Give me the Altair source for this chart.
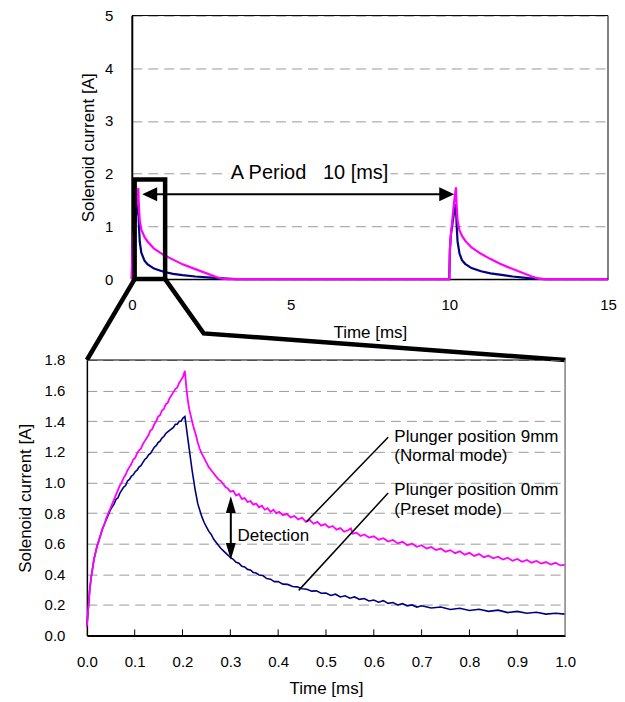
import altair as alt
import pandas as pd

FONT = "Liberation Sans"

# ---------------- zoomed view (0 - 1 ms) ----------------
# Plunger position 9mm (normal mode)
rise_t_9mm = [0.000, 0.003, 0.006, 0.009, 0.012, 0.015, 0.018, 0.021, 0.025, 0.029,
              0.033, 0.037, 0.041, 0.045, 0.049, 0.053, 0.057, 0.061, 0.065, 0.069,
              0.073, 0.077, 0.081, 0.085, 0.089, 0.093, 0.097, 0.101, 0.105, 0.109,
              0.113, 0.117, 0.121, 0.125, 0.129, 0.133, 0.137, 0.141, 0.145, 0.149,
              0.153, 0.157, 0.161, 0.165, 0.169, 0.173, 0.177, 0.181, 0.185, 0.189,
              0.193, 0.197, 0.201, 0.205]
rise_i_9mm = [0.06, 0.18, 0.30, 0.38, 0.44, 0.50, 0.54, 0.58, 0.62, 0.66,
              0.70, 0.73, 0.77, 0.80, 0.83, 0.86, 0.89, 0.92, 0.95, 0.98,
              1.00, 1.03, 1.05, 1.08, 1.10, 1.12, 1.15, 1.16, 1.19, 1.21,
              1.22, 1.25, 1.27, 1.29, 1.31, 1.34, 1.35, 1.38, 1.40, 1.43,
              1.44, 1.47, 1.48, 1.51, 1.52, 1.55, 1.57, 1.59, 1.61, 1.62,
              1.65, 1.67, 1.69, 1.73]
decay_t_9mm = [0.208, 0.211, 0.214, 0.217, 0.220, 0.224, 0.228, 0.232, 0.236, 0.240,
               0.245, 0.250, 0.255, 0.260, 0.265, 0.270, 0.275, 0.280, 0.285, 0.290,
               0.295, 0.300,
               0.306, 0.312, 0.318, 0.324, 0.330, 0.336, 0.342, 0.348, 0.354, 0.360,
               0.366, 0.372, 0.378, 0.384, 0.390, 0.396, 0.402, 0.410, 0.418, 0.426,
               0.434, 0.442, 0.450, 0.458, 0.466, 0.474, 0.482, 0.490, 0.498, 0.506,
               0.514, 0.522, 0.530, 0.538, 0.546, 0.552, 0.556, 0.564, 0.572, 0.580,
               0.590, 0.600, 0.610, 0.620, 0.630, 0.640, 0.650, 0.660, 0.670, 0.680,
               0.690, 0.700, 0.710, 0.720, 0.730, 0.740, 0.750, 0.760, 0.770, 0.780,
               0.790, 0.800, 0.810, 0.820, 0.830, 0.840, 0.850, 0.860, 0.870, 0.880,
               0.890, 0.900, 0.910, 0.920, 0.930, 0.940, 0.950, 0.960, 0.970, 0.980,
               0.990, 1.000]
decay_i_9mm = [1.62, 1.54, 1.48, 1.44, 1.40, 1.35, 1.31, 1.26, 1.22, 1.19,
               1.16, 1.13, 1.10, 1.08, 1.06, 1.04, 1.02, 1.01, 0.99, 0.97,
               0.96, 0.94,
               0.945, 0.915, 0.925, 0.893, 0.898, 0.872, 0.878, 0.855, 0.862, 0.838,
               0.848, 0.822, 0.832, 0.808, 0.822, 0.798, 0.808, 0.786, 0.795, 0.772,
               0.781, 0.758, 0.770, 0.742, 0.755, 0.730, 0.742, 0.718, 0.728, 0.706,
               0.716, 0.692, 0.702, 0.678, 0.688, 0.700, 0.665, 0.672, 0.650, 0.660,
               0.640, 0.648, 0.626, 0.636, 0.614, 0.624, 0.602, 0.612, 0.590, 0.600,
               0.580, 0.590, 0.568, 0.578, 0.558, 0.568, 0.548, 0.558, 0.538, 0.550,
               0.528, 0.540, 0.520, 0.532, 0.512, 0.522, 0.504, 0.515, 0.496, 0.508,
               0.488, 0.500, 0.482, 0.494, 0.476, 0.487, 0.470, 0.480, 0.464, 0.475,
               0.458, 0.462]

# Plunger position 0mm (preset mode)
rise_t_0mm = rise_t_9mm
rise_i_0mm = [0.06, 0.18, 0.30, 0.38, 0.44, 0.50, 0.54, 0.58, 0.62, 0.66,
              0.70, 0.73, 0.76, 0.79, 0.82, 0.84, 0.86, 0.89, 0.90, 0.93,
              0.95, 0.97, 0.98, 1.01, 1.02, 1.04, 1.05, 1.07, 1.08, 1.10,
              1.11, 1.13, 1.15, 1.16, 1.18, 1.19, 1.21, 1.23, 1.24, 1.26,
              1.27, 1.29, 1.30, 1.32, 1.33, 1.34, 1.35, 1.36, 1.38, 1.38,
              1.40, 1.40, 1.42, 1.43]
decay_t_0mm = [0.208, 0.211, 0.214, 0.217, 0.220, 0.223, 0.226, 0.229, 0.232, 0.236,
               0.240, 0.245, 0.250, 0.255, 0.260, 0.265, 0.270, 0.275, 0.280, 0.285,
               0.290, 0.295, 0.300,
               0.306, 0.312, 0.318, 0.324, 0.330, 0.336, 0.342, 0.348, 0.354, 0.360,
               0.368, 0.376, 0.384, 0.392, 0.400, 0.410, 0.420, 0.430, 0.440, 0.450,
               0.460, 0.470, 0.480, 0.490, 0.500, 0.510, 0.520, 0.530, 0.540, 0.550,
               0.560, 0.570, 0.580, 0.590, 0.600, 0.610, 0.620, 0.630, 0.640, 0.650,
               0.660, 0.670, 0.680, 0.690, 0.700, 0.720, 0.740, 0.760, 0.780, 0.800,
               0.820, 0.840, 0.860, 0.880, 0.900, 0.920, 0.940, 0.960, 0.980, 1.000]
decay_i_0mm = [1.36, 1.29, 1.22, 1.15, 1.08, 1.02, 0.96, 0.91, 0.86, 0.82,
               0.78, 0.74, 0.71, 0.68, 0.66, 0.63, 0.61, 0.59, 0.57, 0.555,
               0.54, 0.525, 0.51,
               0.498, 0.478, 0.472, 0.452, 0.448, 0.432, 0.428, 0.412, 0.408, 0.396,
               0.392, 0.372, 0.368, 0.352, 0.352, 0.336, 0.334, 0.320, 0.318, 0.306,
               0.302, 0.290, 0.292, 0.276, 0.278, 0.262, 0.270, 0.252, 0.260, 0.244,
               0.252, 0.236, 0.242, 0.226, 0.232, 0.218, 0.228, 0.210, 0.216, 0.200,
               0.208, 0.194, 0.200, 0.186, 0.194, 0.180, 0.186, 0.170, 0.178, 0.164,
               0.172, 0.158, 0.166, 0.150, 0.158, 0.146, 0.152, 0.140, 0.146, 0.140]

zoom_t_9mm = rise_t_9mm + decay_t_9mm
zoom_i_9mm = rise_i_9mm + decay_i_9mm
zoom_t_0mm = rise_t_0mm + decay_t_0mm
zoom_i_0mm = rise_i_0mm + decay_i_0mm

# ---------------- full view (0 - 15 ms) ----------------
full_t_9mm = [0.0, 0.02, 0.05, 0.10, 0.15, 0.205, 0.22, 0.25, 0.30, 0.40, 0.50, 0.70,
              1.0, 1.3, 1.6, 2.0, 2.4, 2.7, 2.85, 3.0, 5.0, 7.0, 9.0, 10.0,
              10.02, 10.05, 10.10, 10.15, 10.21, 10.23, 10.26, 10.32, 10.40, 10.50,
              10.70, 11.0, 11.3, 11.6, 12.0, 12.3, 12.6, 12.8, 13.0, 15.0]
full_i_9mm = [0.0, 0.57, 0.85, 1.15, 1.45, 1.73, 1.40, 1.12, 0.94, 0.80, 0.71, 0.58,
              0.46, 0.37, 0.28, 0.19, 0.10, 0.03, 0.01, 0.0, 0.0, 0.0, 0.0, 0.0,
              0.57, 0.85, 1.15, 1.45, 1.74, 1.40, 1.12, 0.93, 0.82, 0.73,
              0.60, 0.48, 0.38, 0.29, 0.19, 0.12, 0.05, 0.01, 0.0, 0.0]
full_t_0mm = [0.0, 0.02, 0.05, 0.10, 0.15, 0.205, 0.22, 0.25, 0.30, 0.40, 0.50, 0.70,
              1.0, 1.3, 1.6, 2.0, 2.5, 3.0, 3.3, 5.0, 7.0, 9.0, 10.0,
              10.02, 10.05, 10.10, 10.15, 10.21, 10.23, 10.26, 10.32, 10.40, 10.50,
              10.70, 11.0, 11.3, 11.7, 12.0, 12.5, 13.0, 15.0]
full_i_0mm = [0.0, 0.57, 0.84, 1.06, 1.27, 1.43, 1.08, 0.71, 0.50, 0.35, 0.28, 0.20,
              0.14, 0.10, 0.075, 0.05, 0.03, 0.01, 0.0, 0.0, 0.0, 0.0, 0.0,
              0.56, 0.83, 1.05, 1.26, 1.42, 1.05, 0.72, 0.49, 0.36, 0.29,
              0.21, 0.15, 0.11, 0.075, 0.05, 0.02, 0.0, 0.0]

# annotation texts
period_label = "A Period\u00a0\u00a0\u00a010 [ms]"
label_9mm = ["Plunger position 9mm", "(Normal mode)"]
label_0mm = ["Plunger position 0mm", "(Preset mode)"]
detect_label = "Detection"

MAGENTA = "#ff00ff"
NAVY = "#000080"
GRID = "#9a9a9a"


def axis(**kw):
    base = dict(labelFont=FONT, titleFont=FONT, labelColor="black", titleColor="black",
                titleFontWeight="normal", domainColor="black", labelFlush=False)
    base.update(kw)
    return alt.Axis(**base)


# ================= TOP CHART =================
TW, TH = 522, 264
top_xs = alt.Scale(domain=[0, 15], range=[45, 522], nice=False, zero=False)
top_ys = alt.Scale(domain=[0, 5], nice=False)
top_xa = axis(values=[0, 5, 10, 15], format="d", ticks=False, grid=False,
              labelPadding=18, labelFontSize=15, title="Time [ms]", titleFontSize=17,
              titlePadding=12, domainWidth=1.5)
top_ya = axis(values=[0, 1, 2, 3, 4, 5], format="d", ticks=False, grid=True,
              gridDash=[10, 6], gridColor=GRID, gridWidth=1, labelPadding=19,
              labelFontSize=15, title="Solenoid current [A]", titleFontSize=17,
              titlePadding=7, offset=-45, domainWidth=2)


def TX(f):
    return alt.X(f, type="quantitative", scale=top_xs, axis=top_xa)


def TY(f):
    return alt.Y(f, type="quantitative", scale=top_ys, axis=top_ya)


df_full9 = pd.DataFrame({"t": full_t_9mm, "i": full_i_9mm})
df_full0 = pd.DataFrame({"t": full_t_0mm, "i": full_i_0mm})

top_border = pd.DataFrame({"x0": [0, 15], "x1": [15, 15], "y0": [5, 0], "y1": [5, 5]})
l_border = alt.Chart(top_border).mark_rule(color="black", strokeWidth=1).encode(
    x=TX("x0"), x2="x1", y=TY("y0"), y2="y1")

l_navy = alt.Chart(df_full0).mark_line(color=NAVY, strokeWidth=2.2).encode(x=TX("t"), y=TY("i"))
l_mag = alt.Chart(df_full9).mark_line(color=MAGENTA, strokeWidth=2.2).encode(x=TX("t"), y=TY("i"))

box = pd.DataFrame({"x0": [3.05], "x1": [8.15], "y0": [1.86], "y1": [2.2]})
l_box = alt.Chart(box).mark_rect(color="white").encode(x=TX("x0"), x2="x1", y=TY("y0"), y2="y1")
period = pd.DataFrame({"x": [5.6], "y": [2.02], "txt": [period_label]})
l_period = alt.Chart(period).mark_text(font=FONT, fontSize=20, color="black", align="center",
                                       baseline="middle").encode(x=TX("x"), y=TY("y"), text="txt")

arrow = pd.DataFrame({"x0": [0.56], "x1": [9.92], "y": [1.61]})
l_arrow = alt.Chart(arrow).mark_rule(color="black", strokeWidth=2).encode(x=TX("x0"), x2="x1", y=TY("y"))
heads = pd.DataFrame({"x": [0.563, 9.92], "y": [1.61, 1.61], "dir": ["l", "r"]})
l_head_l = alt.Chart(heads[heads.dir == "l"]).mark_point(
    shape="M-1,0L1,-0.93L1,0.93Z", filled=True, color="black", opacity=1, size=225
).encode(x=TX("x"), y=TY("y"))
l_head_r = alt.Chart(heads[heads.dir == "r"]).mark_point(
    shape="M1,0L-1,-0.93L-1,0.93Z", filled=True, color="black", opacity=1, size=225
).encode(x=TX("x"), y=TY("y"))

zoombox = pd.DataFrame({"x0": [0.09], "x1": [1.05], "y0": [0.0], "y1": [1.89]})
l_zoombox = alt.Chart(zoombox).mark_rect(fillOpacity=0, stroke="black", strokeWidth=4.5).encode(
    x=TX("x0"), x2="x1", y=TY("y0"), y2="y1")

connect = pd.DataFrame({
    "seg": ["a", "a", "b", "b", "b"],
    "ord": [0, 1, 0, 1, 2],
    "t": [0.09, -1.415, 1.05, 2.264, 13.66],
    "i": [0.0, -1.534, 0.0, -1.03, -1.534],
})
l_connect = alt.Chart(connect).mark_line(color="black", strokeWidth=4.5, strokeJoin="miter").encode(
    x=TX("t"), y=TY("i"), detail="seg:N", order="ord:Q")

top = alt.layer(l_navy, l_mag, l_border, l_box, l_period, l_arrow, l_head_l, l_head_r,
                l_zoombox, l_connect).properties(width=TW, height=TH)

# ================= BOTTOM CHART =================
BW, BH = 479, 276
bot_xs = alt.Scale(domain=[0, 1], nice=False, zero=False)
bot_ys = alt.Scale(domain=[0, 1.8], nice=False)
bot_xa = axis(values=[0.0, 0.1, 0.2, 0.3, 0.4, 0.5, 0.6, 0.7, 0.8, 0.9, 1.0], format=".1f",
              ticks=False, grid=False, labelPadding=19, labelFontSize=15, title="Time [ms]",
              titleFontSize=17, titlePadding=11, domainWidth=2)
bot_ya = axis(values=[0.0, 0.2, 0.4, 0.6, 0.8, 1.0, 1.2, 1.4, 1.6, 1.8], format=".1f",
              ticks=False, grid=True, gridDash=[10, 6], gridColor=GRID, gridWidth=1,
              labelPadding=22, labelFontSize=15, title="Solenoid current [A]",
              titleFontSize=17, titlePadding=10, domainWidth=1.5)


def BX(f):
    return alt.X(f, type="quantitative", scale=bot_xs, axis=bot_xa)


def BY(f):
    return alt.Y(f, type="quantitative", scale=bot_ys, axis=bot_ya)


df_zoom9 = pd.DataFrame({"t": zoom_t_9mm, "i": zoom_i_9mm})
df_zoom0 = pd.DataFrame({"t": zoom_t_0mm, "i": zoom_i_0mm})

b_navy = alt.Chart(df_zoom0).mark_line(color=NAVY, strokeWidth=1.6).encode(x=BX("t"), y=BY("i"))
b_mag = alt.Chart(df_zoom9).mark_line(color=MAGENTA, strokeWidth=1.8).encode(x=BX("t"), y=BY("i"))

b_top = pd.DataFrame({"x0": [0.0], "x1": [1.0], "y": [1.8]})
b_topline = alt.Chart(b_top).mark_rule(color="black", strokeWidth=1).encode(x=BX("x0"), x2="x1", y=BY("y"))
b_right = pd.DataFrame({"x": [1.0], "y0": [0.0], "y1": [1.8]})
b_rightline = alt.Chart(b_right).mark_rule(color="#808080", strokeWidth=1.5).encode(
    x=BX("x"), y=BY("y0"), y2="y1")

tick_vals = [0.1, 0.2, 0.3, 0.4, 0.5, 0.6, 0.7, 0.8, 0.9]
b_ticks_df = pd.DataFrame({"x": tick_vals, "y0": [0.0] * 9, "y1": [0.04] * 9})
b_ticks = alt.Chart(b_ticks_df).mark_rule(color="black", strokeWidth=1).encode(
    x=BX("x"), y=BY("y0"), y2="y1")

labels = pd.DataFrame({
    "x": [0.643, 0.643, 0.643, 0.643],
    "y": [1.30, 1.17, 0.948, 0.817],
    "txt": label_9mm + label_0mm,
})
b_labels = alt.Chart(labels).mark_text(font=FONT, fontSize=17, color="black", align="left",
                                       baseline="middle").encode(x=BX("x"), y=BY("y"), text="txt")

leaders = pd.DataFrame({"x0": [0.630, 0.630], "y0": [1.295, 0.931],
                        "x1": [0.459, 0.443], "y1": [0.743, 0.295]})
b_leaders = alt.Chart(leaders).mark_rule(color="black", strokeWidth=1.5).encode(
    x=BX("x0"), y=BY("y0"), x2="x1", y2="y1")

det = pd.DataFrame({"x": [0.301], "y0": [0.56], "y1": [0.85]})
b_det = alt.Chart(det).mark_rule(color="black", strokeWidth=2).encode(x=BX("x"), y=BY("y0"), y2="y1")
det_heads = pd.DataFrame({"x": [0.301, 0.301], "y": [0.855, 0.55], "d": ["up", "down"]})
b_det_up = alt.Chart(det_heads[det_heads.d == "up"]).mark_point(
    shape="M0,-1L0.6,1L-0.6,1Z", filled=True, color="black", opacity=1, size=276
).encode(x=BX("x"), y=BY("y"))
b_det_dn = alt.Chart(det_heads[det_heads.d == "down"]).mark_point(
    shape="M0,1L0.6,-1L-0.6,-1Z", filled=True, color="black", opacity=1, size=276
).encode(x=BX("x"), y=BY("y"))
det_txt = pd.DataFrame({"x": [0.315], "y": [0.648], "txt": [detect_label]})
b_det_txt = alt.Chart(det_txt).mark_text(font=FONT, fontSize=17, color="black", align="left",
                                         baseline="middle").encode(x=BX("x"), y=BY("y"), text="txt")

bottom = alt.layer(b_ticks, b_navy, b_mag, b_topline, b_rightline, b_leaders, b_labels,
                   b_det, b_det_up, b_det_dn, b_det_txt).properties(width=BW, height=BH)

chart = alt.vconcat(top, bottom, spacing=81, bounds="flush").properties(
    padding={"left": 8, "top": 0, "right": 0, "bottom": 0}
).configure_view(stroke=None)

chart.save("out.html", embed_options={"renderer": "svg", "actions": False})
